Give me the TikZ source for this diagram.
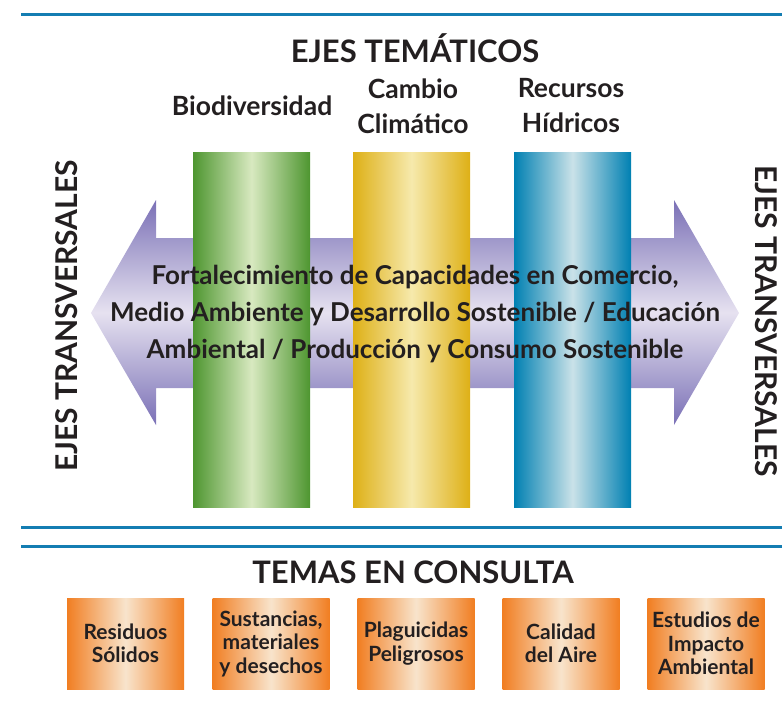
\documentclass[tikz,border=0pt]{standalone}
\usepackage{fontspec}
\setmainfont{Lato}

\definecolor{rulecol}{RGB}{20,125,178}
\definecolor{arrowdark}{RGB}{122,112,182}
\definecolor{arrowlight}{RGB}{230,226,240}
\definecolor{greendark}{RGB}{78,150,48}
\definecolor{greenlight}{RGB}{216,233,192}
\definecolor{yellowdark}{RGB}{222,176,22}
\definecolor{yellowlight}{RGB}{246,233,172}
\definecolor{bluedark}{RGB}{0,128,178}
\definecolor{bluelight}{RGB}{202,226,232}
\definecolor{orangedark}{RGB}{241,126,34}
\definecolor{orangelight}{RGB}{248,228,204}
\definecolor{ink}{RGB}{35,31,32}

\begin{document}
\begin{tikzpicture}
	[
	x=1pt, y=-1pt,
	rule/.style={draw = rulecol, line width = 3pt},
	bar/.style={minimum width = 117pt, minimum height = 355pt, inner sep = 0pt},
	title/.style={text = ink, font = \bfseries\fontsize{31}{34}\selectfont},
	eje/.style={text = ink, align = center, font = \bfseries\fontsize{26.5}{35}\selectfont},
	side/.style={text = ink, anchor = base, inner sep = 0pt, font = \bfseries\fontsize{30}{34}\selectfont},
	tema/.style={minimum width = 117pt, minimum height = 91pt, inner sep = 0pt, align = center,
		text = ink, font = \bfseries\fontsize{21}{23.5}\selectfont,
		left color = orangedark, right color = orangedark, middle color = orangelight}
	]
	\useasboundingbox (0,0) rectangle (782,713);
	
	% Separating lines
	\draw[rule] (21,14) -- (782,14);
	\draw[rule] (21,527) -- (782,527);
	\draw[rule] (21,546) -- (782,546);
	
	% Double arrow
	\shade[top color = arrowdark, bottom color = arrowdark, middle color = arrowlight]
		(91,313) -- (156,200) -- (156,238) -- (674,238) -- (674,200) -- (739,313)
		-- (674,425) -- (674,388) -- (156,388) -- (156,425) -- cycle;
	
	% Thematic axes
	\node[bar, left color = greendark, right color = greendark, middle color = greenlight](bio) at (251.5,329.5){};
	\node[bar, left color = yellowdark, right color = yellowdark, middle color = yellowlight](clima) at (411.5,329.5){};
	\node[bar, left color = bluedark, right color = bluedark, middle color = bluelight](agua) at (572.5,329.5){};
	
	\node[title](ejes) at (415,48){EJES TEMÁTICOS};
	\node[eje](biot) at (252,106){Biodiversidad};
	\node[eje](climat) at (413,106){Cambio\\Climático};
	\node[eje](aguat) at (571,106){Recursos\\Hídricos};
	
	% Transversal axes
	\node[text = ink, align = center, font = \bfseries\fontsize{26}{37}\selectfont](capac) at (415,314)
		{Fortalecimiento de Capacidades en Comercio,\\Medio Ambiente y Desarrollo Sostenible / Educación\\Ambiental / Producción y Consumo Sostenible};
	\node[side, rotate = 90](transL) at (77,316){EJES TRANSVERSALES};
	\node[side, rotate = -90](transR) at (755,321){EJES TRANSVERSALES};
	
	% Topics under consultation
	\node[title](temas) at (413,572){TEMAS EN CONSULTA};
	\node[tema](t1) at (125.5,643.5){Residuos\\Sólidos};
	\node[tema](t2) at (271,643.5){Sustancias,\\materiales\\y desechos};
	\node[tema](t3) at (416,643.5){Plaguicidas\\Peligrosos};
	\node[tema](t4) at (561,643.5){Calidad\\del Aire};
	\node[tema](t5) at (706,643.5){Estudios de\\Impacto\\Ambiental};
\end{tikzpicture}
\end{document}
